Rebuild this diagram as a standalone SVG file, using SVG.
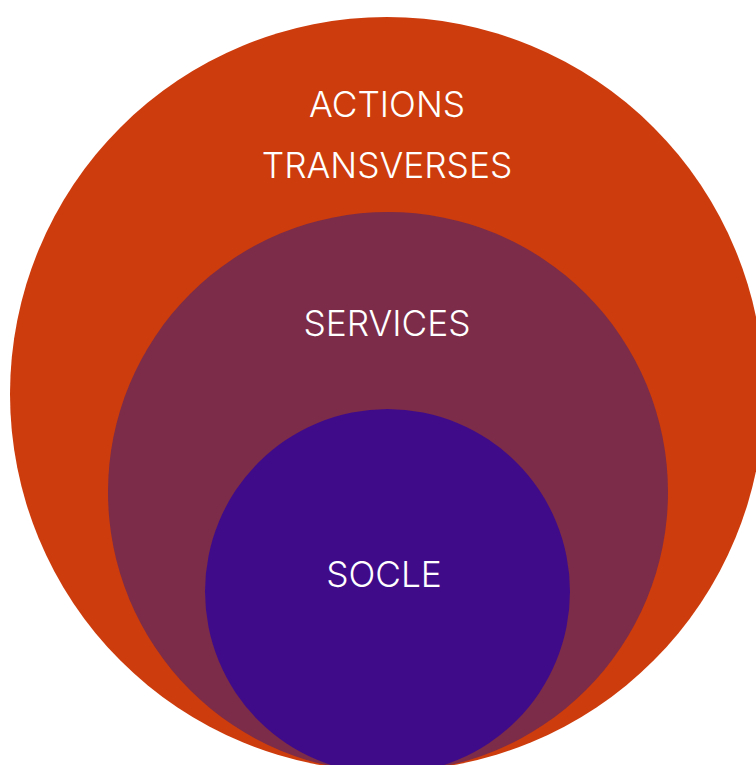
<svg xmlns="http://www.w3.org/2000/svg" width="756" height="765" viewBox="0 0 756 765">
<style>
.lbl{font-family:Inter,"Noto Sans","Liberation Sans",sans-serif;font-size:35.3px;font-weight:300;fill:#ffffff;text-anchor:middle}
</style>
<rect width="756" height="765" fill="#ffffff"/>
<g id="actions">
<circle cx="387" cy="394" r="377" fill="#CD3C0C"/>
<text class="lbl" x="387" y="117">ACTIONS</text>
<text class="lbl" x="387" y="178">TRANSVERSES</text>
</g>
<g id="services">
<circle cx="388" cy="492" r="280" fill="#7C2C48"/>
<text class="lbl" x="387" y="336">SERVICES</text>
</g>
<g id="socle">
<circle cx="387.5" cy="591.5" r="182.5" fill="#400B89"/>
<text class="lbl" x="384" y="587">SOCLE</text>
</g>
<g id="connectors"/>
</svg>
